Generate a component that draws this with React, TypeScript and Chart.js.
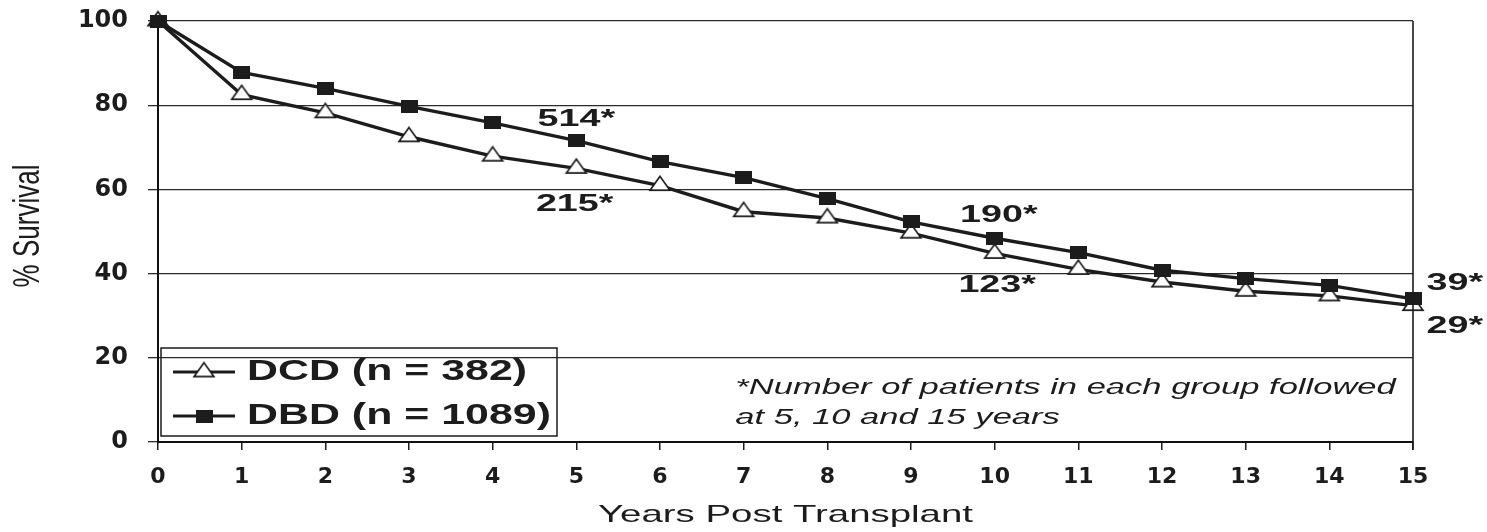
import { useEffect, useRef } from "react";
import { Chart, registerables } from "chart.js";

Chart.register(...registerables);

// ---------- data ----------
const years = [0, 1, 2, 3, 4, 5, 6, 7, 8, 9, 10, 11, 12, 13, 14, 15];
const dcdSurvival = [100, 82.5, 78.2, 72.5, 67.9, 65.0, 60.9, 54.7, 53.2, 49.6, 44.8, 41.0, 38.0, 35.8, 34.7, 32.4];
const dbdSurvival = [100, 87.8, 84.0, 79.7, 75.8, 71.6, 66.6, 62.8, 57.8, 52.3, 48.4, 45.0, 40.8, 38.8, 37.2, 34.0];
const yTicks = [0, 20, 40, 60, 80, 100];
const seriesLabels = ["DCD (n = 382)", "DBD (n = 1089)"];
const followUpLabels = ["514*", "215*", "190*", "123*", "39*", "29*"];
const footnoteLines = ["*Number of patients in each group followed", "at 5, 10 and 15 years"];
const xTitle = "Years Post Transplant";
const yTitle = "% Survival";

// ---------- layout (positions in data units, kept apart from data) ----------
const followUpAnchors = [
  { x: 5.0, y: 76.6 },
  { x: 4.98, y: 56.5 },
  { x: 10.05, y: 53.9 },
  { x: 10.03, y: 37.3 },
  { x: 15.5, y: 37.6 },
  { x: 15.5, y: 27.4 },
];
const footnoteAnchor = { x: 6.9, y: 12.8, lineGap: 30 };

const INK = "#1c1c1c";
const SANS = "'Liberation Sans', Arial, sans-serif";

function makeSquare(): HTMLCanvasElement {
  const c = document.createElement("canvas");
  c.width = 17;
  c.height = 13;
  const g = c.getContext("2d")!;
  g.fillStyle = INK;
  g.fillRect(0, 0, 17, 13);
  return c;
}

function makeTriangle(): HTMLCanvasElement {
  const w = 20;
  const h = 14;
  const c = document.createElement("canvas");
  c.width = w + 4;
  const H = Math.ceil((4 * h) / 3) + 4;
  c.height = H;
  const cy = H / 2;
  const cx = c.width / 2;
  const g = c.getContext("2d")!;
  g.beginPath();
  g.moveTo(cx, cy - (2 * h) / 3);
  g.lineTo(cx + w / 2, cy + h / 3);
  g.lineTo(cx - w / 2, cy + h / 3);
  g.closePath();
  g.fillStyle = "#ffffff";
  g.fill();
  g.lineWidth = 1.6;
  g.strokeStyle = INK;
  g.lineJoin = "miter";
  g.stroke();
  return c;
}

function drawText(
  ctx: CanvasRenderingContext2D,
  text: string,
  x: number,
  y: number,
  font: string,
  sx: number,
  align: CanvasTextAlign,
  sy = 1,
  rot = 0
) {
  ctx.save();
  ctx.font = font;
  ctx.fillStyle = INK;
  ctx.textBaseline = "middle";
  ctx.textAlign = align;
  ctx.translate(x, y);
  if (rot) ctx.rotate(rot);
  ctx.scale(sx, sy);
  ctx.fillText(text, 0, 0);
  ctx.restore();
}

const decorPlugin = {
  id: "decor",
  beforeDraw(chart: any) {
    const { ctx, width, height } = chart;
    ctx.save();
    ctx.fillStyle = "#ffffff";
    ctx.fillRect(0, 0, width, height);
    ctx.restore();
  },
  afterDraw(chart: any) {
    const { ctx, chartArea } = chart;
    const xs = chart.scales.x;
    const ys = chart.scales.y;

    // right frame line
    ctx.save();
    ctx.strokeStyle = INK;
    ctx.lineWidth = 1.6;
    ctx.beginPath();
    ctx.moveTo(chartArea.right, chartArea.top);
    ctx.lineTo(chartArea.right, chartArea.bottom + 8);
    ctx.stroke();
    ctx.restore();

    // follow-up counts
    followUpLabels.forEach((t, i) => {
      const a = followUpAnchors[i];
      drawText(ctx, t, xs.getPixelForValue(a.x), ys.getPixelForValue(a.y), `bold 24px ${SANS}`, 1.57, "center");
    });

    // footnote
    const fx = xs.getPixelForValue(footnoteAnchor.x);
    const fy = ys.getPixelForValue(footnoteAnchor.y);
    footnoteLines.forEach((t, i) => {
      drawText(ctx, t, fx, fy + i * footnoteAnchor.lineGap, `italic 22px ${SANS}`, 1.57, "left");
    });

    // legend box
    const bx = chartArea.left + 3;
    const bw = 396;
    const bh = 88;
    const by = chartArea.bottom - 6 - bh;
    ctx.save();
    ctx.strokeStyle = INK;
    ctx.lineWidth = 1.5;
    ctx.strokeRect(bx, by, bw, bh);
    ctx.restore();
    const order = [0, 1];
    order.forEach((di, row) => {
      const ds = chart.data.datasets[di];
      const cy = by + 24 + row * 44;
      ctx.save();
      ctx.strokeStyle = ds.borderColor;
      ctx.lineWidth = 3;
      ctx.beginPath();
      ctx.moveTo(bx + 12, cy);
      ctx.lineTo(bx + 74, cy);
      ctx.stroke();
      const img = ds.pointStyle as HTMLCanvasElement;
      ctx.drawImage(img, bx + 43 - img.width / 2, cy - img.height / 2);
      ctx.restore();
      drawText(ctx, ds.label, bx + 86, cy, `bold 30px ${SANS}`, 1.43, "left");
    });

    // axis titles
    const cxm = (chartArea.left + chartArea.right) / 2;
    drawText(ctx, xTitle, cxm, chartArea.bottom + 73, `24px ${SANS}`, 1.6, "center");
    drawText(ctx, yTitle, 29, 226, `26px ${SANS}`, 1, "center", 1.4, -Math.PI / 2);
  },
};

export default function App() {
  const ref = useRef<HTMLCanvasElement | null>(null);

  useEffect(() => {
    if (!ref.current) return;
    const tri = makeTriangle();
    const sq = makeSquare();
    const chart = new Chart(ref.current, {
      type: "line",
      data: {
        datasets: [
          {
            label: seriesLabels[0],
            data: years.map((x, i) => ({ x, y: dcdSurvival[i] })),
            borderColor: INK,
            borderWidth: 3.4,
            pointStyle: tri as any,
            pointRadius: 7,
            tension: 0,
            clip: false as any,
            order: 1,
          },
          {
            label: seriesLabels[1],
            data: years.map((x, i) => ({ x, y: dbdSurvival[i] })),
            borderColor: INK,
            borderWidth: 3.4,
            pointStyle: sq as any,
            pointRadius: 7,
            tension: 0,
            clip: false as any,
            order: 0,
          },
        ],
      },
      options: {
        animation: false,
        responsive: true,
        maintainAspectRatio: false,
        layout: { autoPadding: false, padding: { top: 21, right: 74, left: 0, bottom: 0 } },
        plugins: { legend: { display: false }, tooltip: { enabled: false } },
        scales: {
          x: {
            type: "linear",
            min: 0,
            max: 15,
            afterBuildTicks: (s: any) => {
              s.ticks = years.map((v) => ({ value: v }));
            },
            afterFit: (s: any) => {
              s.height = 90;
            },
            grid: { drawOnChartArea: false, color: INK, lineWidth: 1.5, tickLength: 8 },
            border: { display: true, color: "#111", width: 2 },
            ticks: {
              font: { family: "'DejaVu Sans'", weight: "bold", size: 22 },
              color: INK,
              padding: 14,
              maxRotation: 0,
              autoSkip: false,
            },
          },
          y: {
            min: 0,
            max: 100,
            afterBuildTicks: (s: any) => {
              s.ticks = yTicks.map((v) => ({ value: v }));
            },
            afterFit: (s: any) => {
              s.width = 158;
              s.paddingTop = 0;
              s.paddingBottom = 0;
            },
            grid: { color: "#2a2a2a", lineWidth: 1.3, tickLength: 10 },
            border: { display: true, color: "#111", width: 2 },
            ticks: {
              font: { family: "'DejaVu Sans'", weight: "bold", size: 24 },
              color: INK,
              padding: 20,
            },
          },
        },
      },
      plugins: [decorPlugin],
    });
    return () => chart.destroy();
  }, []);

  return (
    <div style={{ position: "fixed", left: 0, top: 0, width: 1487, height: 532, background: "#fff" }}>
      <canvas ref={ref} />
    </div>
  );
}
